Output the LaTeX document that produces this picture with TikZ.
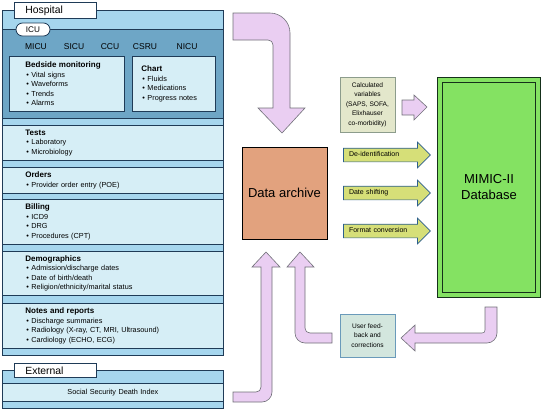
\documentclass[tikz,border=0pt]{standalone}
\usepackage{fontspec}
\setmainfont{Liberation Sans}
\usetikzlibrary{shapes.arrows}
\definecolor{bandblue}{HTML}{A6D6EE}
\definecolor{icublue}{HTML}{6EA6C6}
\definecolor{secblue}{HTML}{D6EEF6}
\definecolor{edgeblue}{HTML}{1F3B57}
\definecolor{pinkfill}{HTML}{EACEF2}
\definecolor{pinkedge}{HTML}{707078}
\definecolor{archivefill}{HTML}{E2A27E}
\definecolor{mimicfill}{HTML}{84E262}
\definecolor{mimicedge}{HTML}{15301A}
\definecolor{calcfill}{HTML}{E3E7CB}
\definecolor{calcedge}{HTML}{8C9C8C}
\definecolor{feedfill}{HTML}{D3E6DE}
\definecolor{feededge}{HTML}{6A9ABA}
\definecolor{yfill}{HTML}{D6DF78}
\definecolor{yedge}{HTML}{2C5F8C}
\newcommand{\itm}[1]{\hspace*{1pt}\textbullet\hspace{2.5pt}#1}
\newcommand{\ttl}[1]{{\fontsize{8}{9.6}\selectfont\bfseries #1}}
\tikzset{
  band/.style={draw=edgeblue, line width=0.8pt, anchor=north west, minimum width=221pt, inner sep=0pt},
  section/.style={draw=edgeblue, line width=0.8pt, fill=secblue, anchor=north west, inner xsep=23pt, text width=175pt, align=left, font=\fontsize{7.3}{9.6}\selectfont},
  tab/.style={draw=edgeblue, line width=0.8pt, fill=white, anchor=north west, minimum height=15pt, inner xsep=11pt, text width=60pt, align=left, font=\fontsize{10.4}{12}\selectfont},
  unit/.style={font=\fontsize{8.5}{10}\selectfont},
  fatarrow/.style={draw=pinkedge, fill=pinkfill, line width=0.6pt},
  yarrow/.style={single arrow, draw=yedge, fill=yfill, line width=0.7pt, single arrow head extend=6pt, minimum height=87pt, text width=69pt, align=left, text height=5pt, text depth=1.5pt, inner ysep=3.25pt, inner xsep=2pt, font=\fontsize{7}{8}\selectfont},
  smallbox/.style={line width=0.7pt, minimum width=55pt, align=center, inner sep=1pt, font=\fontsize{6.6}{9.5}\selectfont},
  bigbox/.style={align=center, font=\fontsize{13}{16}\selectfont}
}

\begin{document}
\begin{tikzpicture}[x=1pt, y=-1pt]
  \useasboundingbox (0,0) rectangle (543,410);

  %%%%% HOSPITAL %%%%%
  \node[band, fill=bandblue, minimum height=345pt] (hospital) at (2,10) {};
  \node[band, fill=icublue, minimum height=89pt] (icuarea) at (2,29) {};
  \node[tab] (hosptab) at (14,2) {Hospital};
  \node[draw=edgeblue, line width=0.8pt, fill=white, rounded corners=6.5pt, minimum width=34pt, minimum height=13pt, inner sep=0pt, font=\fontsize{8.2}{10}\selectfont] (icu) at (33,29.5) {ICU};
  \foreach \u/\x in {MICU/36, SICU/74, CCU/110, CSRU/145, NICU/187}
    \node[unit] (\u) at (\x,47) {\u};

  \node[section, minimum width=115pt, minimum height=55pt, inner xsep=16pt, text width=83pt] (bedside) at (9,56)
    {\ttl{Bedside monitoring}\\ \itm{Vital signs}\\ \itm{Waveforms}\\ \itm{Trends}\\ \itm{Alarms}};
  \node[section, minimum width=83pt, minimum height=55pt, inner xsep=9pt, text width=65pt] (chart) at (132,56)
    {\ttl{Chart}\\ \itm{Fluids}\\ \itm{Medications}\\ \itm{Progress notes}};

  \node[section, minimum height=35pt] (tests) at (2,125)
    {\ttl{Tests}\\ \itm{Laboratory}\\ \itm{Microbiology}};
  \node[section, minimum height=26pt] (orders) at (2,167)
    {\ttl{Orders}\\ \itm{Provider order entry (POE)}};
  \node[section, minimum height=45pt] (billing) at (2,199)
    {\ttl{Billing}\\ \itm{ICD9}\\ \itm{DRG}\\ \itm{Procedures (CPT)}};
  \node[section, minimum height=44pt] (demog) at (2,251)
    {\ttl{Demographics}\\ \itm{Admission/discharge dates}\\ \itm{Date of birth/death}\\ \itm{Religion/ethnicity/marital status}};
  \node[section, minimum height=45pt] (notes) at (2,303)
    {\ttl{Notes and reports}\\ \itm{Discharge summaries}\\ \itm{Radiology (X-ray, CT, MRI, Ultrasound)}\\ \itm{Cardiology (ECHO, ECG)}};

  %%%%% EXTERNAL %%%%%
  \node[band, fill=bandblue, minimum height=38pt] (external) at (2,370) {};
  \node[tab, minimum height=14pt] (exttab) at (14,363) {External};
  \node[section, minimum height=18pt, inner xsep=0pt, text width=221pt, align=center] (ssdi) at (2,383)
    {Social Security Death Index};

  %%%%% ARCHIVE AND DATABASE %%%%%
  \node[draw=black, line width=0.9pt, fill=archivefill, minimum width=85pt, minimum height=92pt, bigbox] (archive) at (284.5,193) {Data archive};
  \node[draw=mimicedge, fill=mimicfill, line width=1pt, double=mimicfill, double distance=4pt, minimum width=98pt, minimum height=215pt, bigbox] (mimic) at (489,187.5) {MIMIC-II\\Database};

  \node[smallbox, draw=calcedge, fill=calcfill, minimum height=55pt] (calcvars) at (367.5,104.5)
    {Calculated\\variables\\(SAPS, SOFA,\\Elixhauser\\co-morbidity)};
  \node[smallbox, draw=feededge, fill=feedfill, minimum height=43pt] (feedback) at (367.5,335.5)
    {User feed-\\back and\\corrections};

  \node[yarrow] (deid) at (383.5,155) {De-identification};
  \node[yarrow] (dateshift) at (383.5,193) {Date shifting};
  \node[yarrow] (formatconv) at (383.5,231) {Format conversion};

  %%%%% FAT ARROWS %%%%%
  \draw[fatarrow] (233,13) -- (270,13) .. controls (281,13) and (290,22) .. (290,33) -- (290,108) -- (305,108) -- (282,133)
    -- (258,108) -- (273,108) -- (273,45) .. controls (273,42) and (271,40) .. (268,40) -- (233,40) -- cycle;
  \draw[fatarrow] (233,392) -- (256,392) .. controls (259,392) and (261,390) .. (261,387) -- (261,267) -- (252,267) -- (266,252)
    -- (280,267) -- (272,267) -- (272,392) .. controls (272,397.5) and (267.5,402) .. (262,402) -- (233,402) -- cycle;
  \draw[fatarrow] (332,333) -- (310,333) .. controls (307,333) and (305,331) .. (305,328) -- (305,267) -- (314,267) -- (300,252)
    -- (287,267) -- (295,267) -- (295,333) .. controls (295,338.5) and (299.5,343) .. (305,343) -- (332,343) -- cycle;
  \draw[fatarrow] (485,307) -- (497,307) -- (497,333) .. controls (497,338.5) and (492.5,343) .. (487,343) -- (415,343) -- (415,351)
    -- (401,338) -- (415,325) -- (415,333) -- (482,333) .. controls (484,333) and (485,332) .. (485,330) -- cycle;
  \draw[fatarrow] (402,100) -- (414,100) -- (414,95) -- (427,107) -- (414,120) -- (414,115) -- (402,115) -- cycle;
\end{tikzpicture}
\end{document}
